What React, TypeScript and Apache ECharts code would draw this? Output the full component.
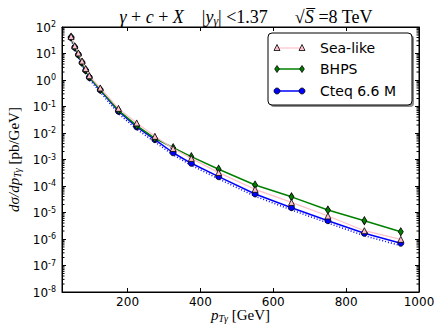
import React, { useEffect, useRef } from "react";
import * as echarts from "echarts";

const pT = [45, 55, 65, 75, 85, 95, 125, 175, 225, 275, 325, 375, 450, 550, 650, 750, 850, 950];
const seaLike = [44, 19.5, 10.5, 5.2, 2.7, 1.45, 0.5, 0.085, 0.024, 0.0075, 2.6e-3, 1.1e-3, 3.2e-4, 7.5e-5, 2.4e-5, 7.4e-6, 2.06e-6, 9.7e-7];
const bhps = [41, 17.5, 9.2, 4.6, 2.4, 1.3, 0.44, 0.072, 0.019, 0.0063, 2.8e-3, 1.28e-3, 4.3e-4, 1.09e-4, 3.9e-5, 1.24e-5, 4.9e-6, 1.88e-6];
const cteq = [40, 17, 9.0, 4.5, 2.3, 1.25, 0.42, 0.066, 0.017, 0.0056, 1.8e-3, 7.2e-4, 2.25e-4, 5.0e-5, 1.52e-5, 4.9e-6, 1.64e-6, 6.9e-7];
const cteqLow = [34, 14.5, 7.6, 3.8, 1.95, 1.05, 0.35, 0.054, 0.0138, 0.0046, 1.5e-3, 6.0e-4, 1.85e-4, 4.1e-5, 1.25e-5, 4.0e-6, 1.33e-6, 5.6e-7];
const xTicks = [200, 400, 600, 800, 1000];
const legendNames = ["Sea-like", "BHPS", "Cteq 6.6 M"];

const X_MIN = 20;
const X_MAX = 1000;
const Y_MIN = 1e-8;
const Y_MAX = 100;

function minorValues(): number[] {
  const out: number[] = [];
  for (let k = -8; k < 2; k++) {
    for (let m = 2; m <= 9; m++) out.push(m * Math.pow(10, k));
  }
  return out;
}

export default function App() {
  const ref = useRef<HTMLDivElement>(null);
  useEffect(() => {
    if (!ref.current) return;
    const chart = echarts.init(ref.current, null, { renderer: "svg" });
    const pair = (ys: number[]) => pT.map((x, i) => [x, ys[i]]);
    const serif = "Liberation Serif";
    const sans = "DejaVu Sans";

    const legY = [48, 69, 91];
    const lx1 = 277, lx2 = 302;
    const legendGraphics: any[] = [
      { type: "rect", shape: { x: 270, y: 35, width: 144, height: 72, r: 4 }, style: { fill: "#000", opacity: 0.45 }, z: 100 },
      { type: "rect", shape: { x: 268, y: 33, width: 144, height: 72, r: 4 }, style: { fill: "#fff", stroke: "#000", lineWidth: 1 }, z: 101 },
      { type: "line", shape: { x1: lx1, y1: legY[0], x2: lx2, y2: legY[0] }, style: { stroke: "#ffc0cb", lineWidth: 1.2 }, z: 102 },
      ...[lx1, lx2].map((x) => ({ type: "polygon", shape: { points: [[x, legY[0] - 3.5], [x - 3, legY[0] + 2.5], [x + 3, legY[0] + 2.5]] }, style: { fill: "#ffc0cb", stroke: "#000", lineWidth: 0.8 }, z: 103 })),
      { type: "line", shape: { x1: lx1, y1: legY[1], x2: lx2, y2: legY[1] }, style: { stroke: "#008000", lineWidth: 1.5 }, z: 102 },
      ...[lx1, lx2].map((x) => ({ type: "polygon", shape: { points: [[x, legY[1] - 3.5], [x + 2.3, legY[1]], [x, legY[1] + 3.5], [x - 2.3, legY[1]]] }, style: { fill: "#008000", stroke: "#000", lineWidth: 0.8 }, z: 103 })),
      { type: "line", shape: { x1: lx1, y1: legY[2], x2: lx2, y2: legY[2] }, style: { stroke: "#0000ff", lineWidth: 1.5 }, z: 102 },
      ...[lx1, lx2].map((x) => ({ type: "circle", shape: { cx: x, cy: legY[2], r: 3 }, style: { fill: "#0000ff", stroke: "#000", lineWidth: 0.8 }, z: 103 })),
      ...legendNames.map((n, i) => ({ type: "text", x: 320, y: legY[i], style: { text: n, fontFamily: sans, fontSize: 14, fill: "#000", verticalAlign: "middle", align: "left" }, z: 104 })),
    ];

    const titleRich = {
      i: { fontFamily: serif, fontStyle: "italic", fontSize: 18 },
      s: { fontFamily: serif, fontStyle: "italic", fontSize: 12, padding: [8, 0, 0, 0] },
    };
    const nameRich = {
      i: { fontFamily: serif, fontStyle: "italic", fontSize: 15 },
      s: { fontFamily: serif, fontStyle: "italic", fontSize: 10, padding: [7, 0, 0, 0] },
    };

    const option: any = {
      animation: false,
      backgroundColor: "#fff",
      title: {
        text: "{i|γ} + {i|c} + {i|X}    |{i|y}{s|γ}| <1.37      √{i|S̅} =8 TeV",
        left: 241,
        top: 2,
        textAlign: "center",
        textStyle: {
          fontFamily: serif,
          fontSize: 18,
          fontWeight: "normal",
          color: "#000",
          rich: titleRich,
        },
      },
      grid: { left: 62, right: 18, top: 27, bottom: 35, outerBoundsMode: "none", containLabel: false, show: true, borderColor: "#000", borderWidth: 1, backgroundColor: "transparent" },
      xAxis: [
        {
          type: "value",
          min: X_MIN,
          max: X_MAX,
          splitLine: { show: false },
          axisLine: { show: true, lineStyle: { color: "#000", width: 1 } },
          axisTick: { show: true, inside: true, length: 4, lineStyle: { color: "#000" } },
          axisLabel: {
            showMinLabel: false,
            hideOverlap: false,
            margin: 4,
            fontFamily: sans,
            fontSize: 12,
            color: "#000",
            formatter: (v: number) => (xTicks.indexOf(v) >= 0 ? String(v) : ""),
          },
          name: "{i|p}{s|Tγ} [GeV]",
          nameLocation: "middle",
          nameGap: 14,
          nameMoveOverlap: false,
          nameTextStyle: {
            fontFamily: serif,
            fontSize: 15,
            color: "#000",
            verticalAlign: "top",
            rich: nameRich,
          },
        },
        {
          type: "value",
          position: "top",
          min: X_MIN,
          max: X_MAX,
          splitLine: { show: false },
          axisLine: { show: true, lineStyle: { color: "#000", width: 1 } },
          axisTick: { show: true, inside: true, length: 4, lineStyle: { color: "#000" } },
          axisLabel: { show: false },
        },
      ],
      yAxis: [
        {
          type: "log",
          logBase: 10,
          min: Y_MIN,
          max: Y_MAX,
          splitNumber: 10,
          interval: 1,
          splitLine: { show: false },
          axisLine: { show: true, lineStyle: { color: "#000", width: 1 } },
          axisTick: { show: true, inside: true, length: 4, lineStyle: { color: "#000" } },
          axisLabel: {
            margin: 6,
            hideOverlap: false,
            interval: 0,
            color: "#000",
            fontFamily: sans,
            formatter: (v: number) => `{b|10}{sup|${Math.round(Math.log10(v))}}`,
            rich: {
              b: { fontFamily: sans, fontSize: 12, verticalAlign: "bottom", color: "#000" },
              sup: { fontFamily: sans, fontSize: 8, verticalAlign: "bottom", padding: [0, 0, 5, 0], color: "#000" },
            },
          },
          name: "{i|dσ/dp}{s|Tγ} [pb/GeV]",
          nameLocation: "middle",
          nameRotate: 90,
          nameGap: 40,
          nameMoveOverlap: false,
          nameTextStyle: {
            fontFamily: serif,
            fontSize: 15,
            color: "#000",
            rich: nameRich,
          },
        },
        {
          type: "log",
          logBase: 10,
          min: Y_MIN,
          max: Y_MAX,
          splitNumber: 10,
          interval: 1,
          position: "right",
          splitLine: { show: false },
          axisLine: { show: true, lineStyle: { color: "#000", width: 1 } },
          axisTick: { show: true, inside: true, length: 4, lineStyle: { color: "#000" } },
          axisLabel: { show: false },
        },
      ],
      series: [
        {
          type: "custom",
          silent: true,
          z: 1,
          data: minorValues().map((v) => [X_MIN, v]),
          renderItem: (_p: any, api: any) => {
            const v = api.value(1);
            const l = api.coord([X_MIN, v]);
            const r = api.coord([X_MAX, v]);
            return {
              type: "group",
              children: [
                { type: "line", shape: { x1: l[0], y1: l[1], x2: l[0] + 2.5, y2: l[1] }, style: { stroke: "#000", lineWidth: 1 } },
                { type: "line", shape: { x1: r[0] - 2.5, y1: r[1], x2: r[0], y2: r[1] }, style: { stroke: "#000", lineWidth: 1 } },
              ],
            };
          },
        },
        {
          name: "Cteq band",
          type: "line",
          data: pair(cteqLow),
          symbol: "none",
          lineStyle: { color: "#0000ff", width: 1.5, type: [1, 2] },
          z: 2,
        },
        {
          name: legendNames[2],
          type: "line",
          data: pair(cteq),
          symbol: "circle",
          symbolSize: 6,
          itemStyle: { color: "#0000ff", borderColor: "#000", borderWidth: 0.8 },
          lineStyle: { color: "#0000ff", width: 1.5 },
          z: 3,
        },
        {
          name: legendNames[1],
          type: "line",
          data: pair(bhps),
          symbol: "diamond",
          symbolSize: [5, 8],
          itemStyle: { color: "#008000", borderColor: "#000", borderWidth: 0.8 },
          lineStyle: { color: "#008000", width: 1.5 },
          z: 4,
        },
        {
          name: legendNames[0],
          type: "line",
          data: pair(seaLike),
          symbol: "triangle",
          symbolSize: 6,
          itemStyle: { color: "#ffc0cb", borderColor: "#000", borderWidth: 0.8 },
          lineStyle: { color: "#ffc0cb", width: 1.2 },
          z: 5,
        },
      ],
      graphic: legendGraphics,
    };
    chart.setOption(option);
    return () => chart.dispose();
  }, []);
  return <div ref={ref} style={{ position: "fixed", left: 0, top: 0, width: 437, height: 327 }} />;
}
